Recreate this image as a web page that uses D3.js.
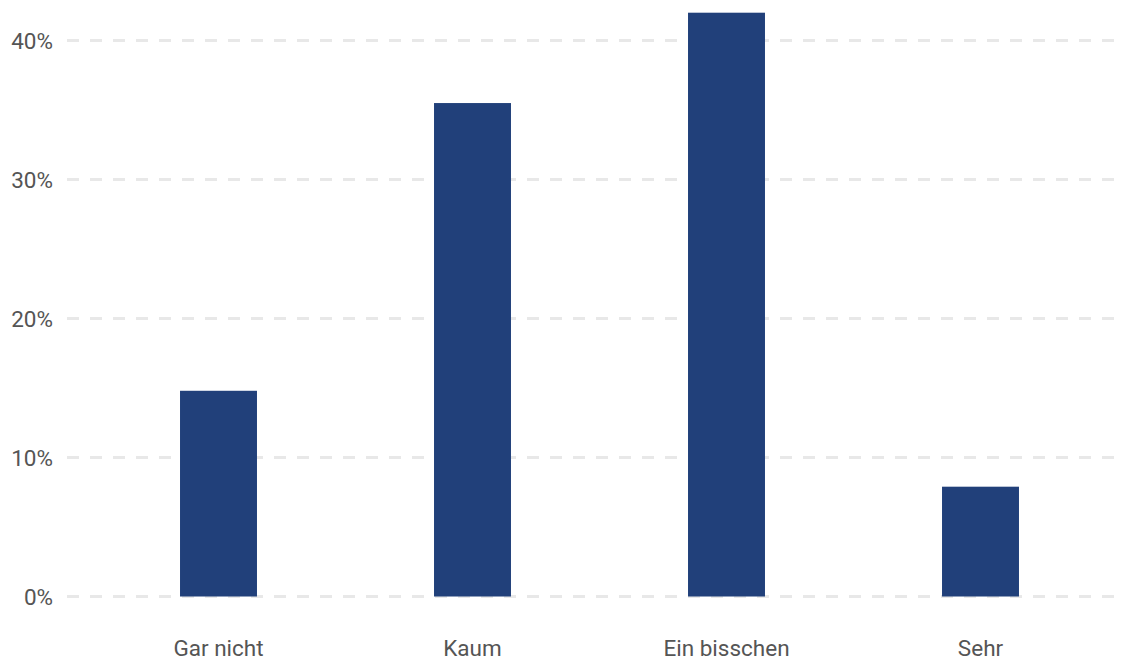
<!DOCTYPE html>
<html><head><meta charset="utf-8">
<script src="https://cdn.jsdelivr.net/npm/d3@7"></script>
<style>body{margin:0;background:#fff}text{font-family:Roboto,sans-serif}</style>
</head><body>
<svg id="c" width="1121" height="660"></svg>
<script>
const categories = ["Gar nicht","Kaum","Ein bisschen","Sehr"];
const values = [14.8, 35.5, 42.0, 7.9];
const yTicks = [0,10,20,30,40];

const svg = d3.select("#c");
const x = d3.scaleBand().domain(categories).range([91.5,1107.5]).paddingInner(0.697).paddingOuter(0.3485);
const y = d3.scaleLinear().domain([0,40]).range([596.5,40.5]);

const grid = svg.append("g");
grid.selectAll("line").data(yTicks).join("line")
  .attr("x1",67).attr("x2",1121)
  .attr("y1",d=>y(d)).attr("y2",d=>y(d))
  .attr("stroke","#e8e8e8").attr("stroke-width",3).attr("stroke-dasharray","12,11");

const yAxis = d3.axisLeft(y).tickValues(yTicks).tickFormat(d=>d+"%").tickSize(0).tickPadding(0);
const ya = svg.append("g").attr("transform","translate(53,0)").call(yAxis);
ya.select(".domain").remove();
ya.selectAll("text").attr("font-size",22.5).attr("fill","#555").attr("font-family","Roboto,sans-serif").attr("dy","0.35em");

svg.append("g").selectAll("rect").data(values).join("rect")
  .attr("x",(d,i)=>x(categories[i])).attr("width",x.bandwidth())
  .attr("y",d=>y(d)).attr("height",d=>y(0)-y(d))
  .attr("fill","#21407a");

const xAxis = d3.axisBottom(x).tickSize(0).tickPadding(0);
const xa = svg.append("g").attr("transform","translate(0,656)").call(xAxis);
xa.select(".domain").remove();
xa.selectAll("text").attr("font-size",22.5).attr("fill","#555").attr("font-family","Roboto,sans-serif").attr("dy","0").attr("y",0);
</script>
</body></html>
